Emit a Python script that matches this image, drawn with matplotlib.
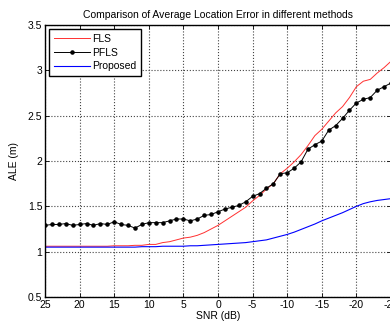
import numpy as np
import matplotlib
matplotlib.use('Agg')
import matplotlib.pyplot as plt

plt.rcParams['font.family'] = ['Liberation Sans', 'DejaVu Sans']
plt.rcParams['axes.unicode_minus'] = False

snr = np.arange(25, -26, -1)  # 25 dB down to -25 dB

fls = [1.06, 1.06, 1.06, 1.06, 1.06, 1.06, 1.06, 1.06, 1.06, 1.06,
       1.065, 1.065, 1.065, 1.07, 1.07, 1.08, 1.08, 1.10, 1.11, 1.13,
       1.15, 1.16, 1.18, 1.21, 1.25, 1.29, 1.34, 1.39, 1.44, 1.49,
       1.56, 1.62, 1.69, 1.75, 1.86, 1.92, 1.99, 2.07, 2.17, 2.28,
       2.35, 2.44, 2.53, 2.60, 2.70, 2.82, 2.88, 2.90, 2.97, 3.03,
       3.10]

pfls = [1.29, 1.30, 1.30, 1.31, 1.29, 1.30, 1.31, 1.29, 1.31, 1.30,
        1.33, 1.30, 1.29, 1.26, 1.30, 1.32, 1.32, 1.32, 1.34, 1.36,
        1.36, 1.34, 1.36, 1.40, 1.41, 1.44, 1.47, 1.49, 1.51, 1.55,
        1.61, 1.64, 1.70, 1.75, 1.86, 1.87, 1.92, 1.99, 2.13, 2.18,
        2.22, 2.34, 2.39, 2.47, 2.56, 2.64, 2.68, 2.70, 2.78, 2.82,
        2.86]

proposed = [1.05, 1.05, 1.05, 1.05, 1.05, 1.05, 1.05, 1.05, 1.05, 1.05,
            1.05, 1.05, 1.05, 1.05, 1.055, 1.055, 1.055, 1.06, 1.06, 1.06,
            1.06, 1.065, 1.065, 1.07, 1.075, 1.08, 1.085, 1.09, 1.095, 1.10,
            1.11, 1.12, 1.13, 1.15, 1.17, 1.19, 1.215, 1.245, 1.275, 1.305,
            1.34, 1.37, 1.40, 1.43, 1.465, 1.50, 1.53, 1.55, 1.565, 1.575,
            1.585]

fig = plt.figure(figsize=(3.9, 3.26), dpi=100)
ax = fig.add_axes([45/390, 29/326, 346/390, 272/326])

ax.plot(snr, fls, color='#ff3030', lw=0.7, label='FLS')
ax.plot(snr, pfls, color='black', lw=0.7, marker='.', ms=4.5, label='PFLS')
ax.plot(snr, proposed, color='#0000ff', lw=0.8, label='Proposed')

ax.set_xlim(25, -25)
ax.set_ylim(0.5, 3.5)
ax.set_xticks(np.arange(25, -26, -5))
ax.set_yticks(np.arange(0.5, 3.6, 0.5))
ax.set_yticklabels(['0.5', '1', '1.5', '2', '2.5', '3', '3.5'])
ax.tick_params(direction='in', top=True, right=True, labelsize=7.5, length=3, width=0.6, pad=2)
ax.grid(True, ls=':', color='#444444', lw=0.8)
for s in ax.spines.values():
    s.set_linewidth(1.0)

ax.set_title('Comparison of Average Location Error in different methods', fontsize=7.5, pad=5)
ax.set_xlabel('SNR (dB)', fontsize=7.5, labelpad=1)
ax.set_ylabel('ALE (m)', fontsize=7.5, labelpad=6)

leg = ax.legend(loc='upper left', fontsize=7.5, fancybox=False, framealpha=1,
                edgecolor='black', borderpad=0.45, handlelength=3.5,
                labelspacing=0.35, handletextpad=0.2, borderaxespad=0.4)
leg.get_frame().set_linewidth(1.0)

fig.savefig('out.png', dpi=100)
